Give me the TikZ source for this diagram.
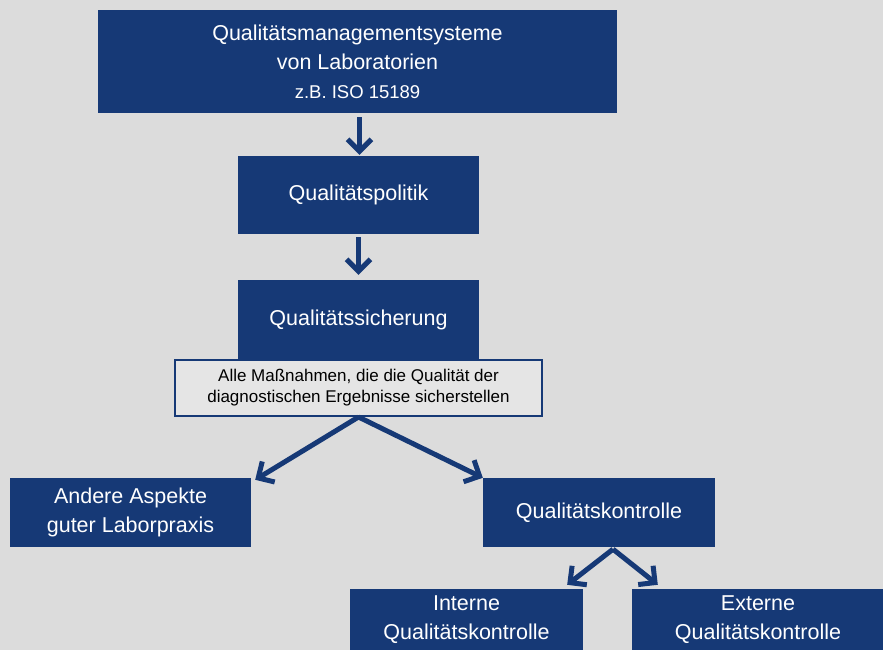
\documentclass[tikz,border=0pt]{standalone}
\usepackage{fontspec}
\setmainfont{Liberation Sans}
\usepackage{xcolor}
\usepackage{tikz}
\usetikzlibrary{arrows.meta}

\definecolor{qmblue}{RGB}{22,57,118}
\definecolor{qmgrey}{RGB}{220,220,220}
\definecolor{qmlight}{RGB}{229,229,229}

\tikzset{
  blockbox/.style={fill=qmblue, text=white, align=center, inner sep=0pt,
    font=\fontsize{21.5}{29}\selectfont},
  notebox/.style={draw=qmblue, line width=2pt, fill=qmlight, align=center, inner sep=0pt,
    font=\fontsize{17}{21}\selectfont},
  flow/.style={draw=qmblue, line width=5pt,
    -{Straight Barb[length=12pt,width=24pt,line width=5pt]}}
}

\begin{document}
\begin{tikzpicture}[x=1pt, y=-1pt]
      \useasboundingbox (0,0) rectangle (883,650);
      \clip (0,0) rectangle (883,650);
      \fill[qmgrey] (0,0) rectangle (883,650);
      \node[blockbox, minimum width=519pt, minimum height=103pt] (sys) at (357.5,61.5)
        {Qualitätsmanagementsysteme\\von Laboratorien\\{\fontsize{18.5}{29}\selectfont z.B. ISO 15189}};
      \node[blockbox, minimum width=241pt, minimum height=78pt] (pol) at (358.5,195) {Qualitätspolitik};
      \node[blockbox, minimum width=241pt, minimum height=80pt] (sich) at (358.5,320) {Qualitätssicherung};
      \node[notebox, minimum width=367pt, minimum height=56pt] (note) at (358.5,388)
        {Alle Maßnahmen, die die Qualität der\\diagnostischen Ergebnisse sicherstellen};
      \node[blockbox, minimum width=241pt, minimum height=69pt] (andere) at (130.5,512.5)
        {Andere Aspekte\\guter Laborpraxis};
      \node[blockbox, minimum width=232pt, minimum height=69pt] (kontr) at (599,512.5) {Qualitätskontrolle};
      \node[blockbox, minimum width=233pt, minimum height=62pt] (intern) at (466.5,620)
        {Interne\\Qualitätskontrolle};
      \node[blockbox, minimum width=252pt, minimum height=62pt] (extern) at (758,620)
        {Externe\\Qualitätskontrolle};
      \draw[flow, shorten <=4pt, shorten >=1pt] ([xshift=2pt]sys.south) -- ([xshift=1pt]pol.north);
      \draw[flow, shorten <=3pt, shorten >=5pt] (pol) -- (sich);
      \draw[flow] (note.south) -- ([xshift=4pt,yshift=-2pt]andere.north east);
      \draw[flow] (note.south) -- (kontr.north west);
      \draw[flow] ([xshift=14pt,yshift=-2pt]kontr.south) -- ([xshift=-16pt,yshift=4pt]intern.north east);
      \draw[flow] ([xshift=14pt,yshift=-2pt]kontr.south) -- ([xshift=26pt,yshift=4pt]extern.north west);
    \end{tikzpicture}
\end{document}
